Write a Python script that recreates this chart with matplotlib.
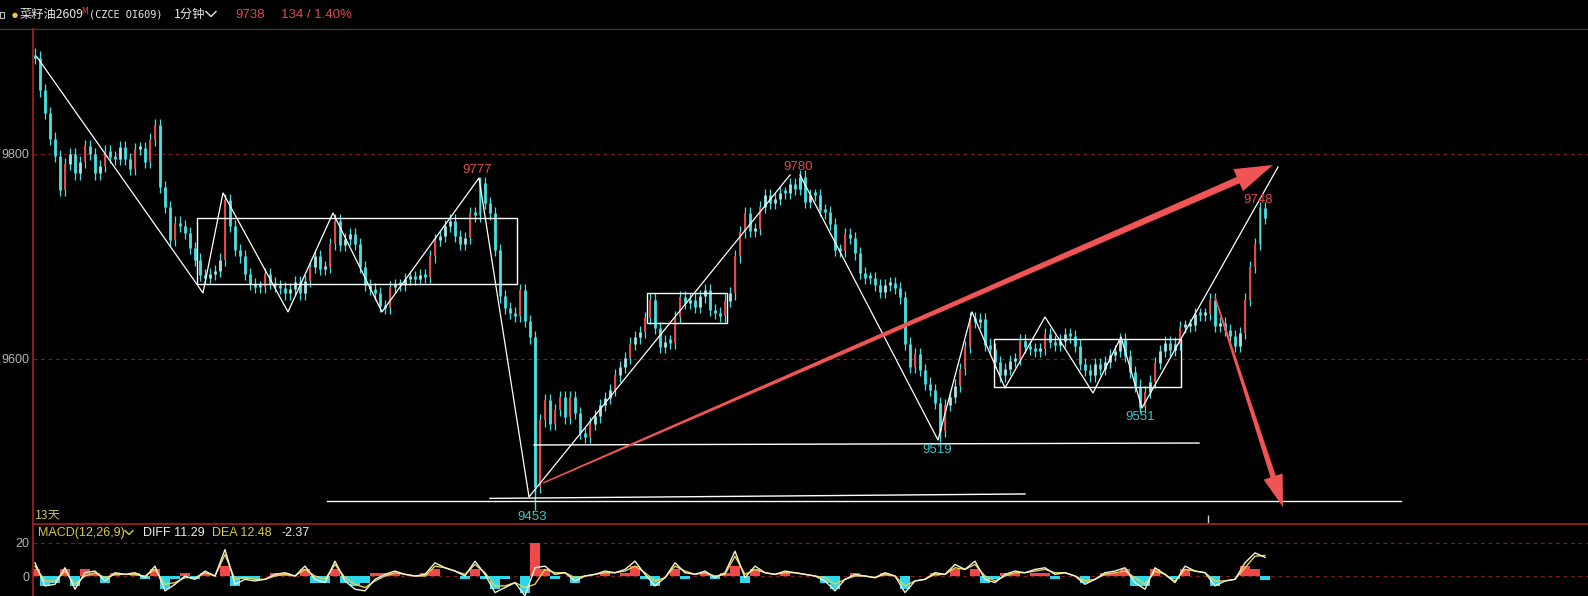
import numpy as np
import matplotlib
matplotlib.use("Agg")
import matplotlib.pyplot as plt
from matplotlib.patches import Polygon, Rectangle
from matplotlib.lines import Line2D

# ---------------- data ----------------
# 1-minute closes, resampled at an even step across the plot
close_prices = [
    9894, 9862, 9840, 9815, 9798, 9765, 9790, 9800, 9781, 9792,
    9808, 9800, 9781, 9788, 9803, 9797, 9795, 9807, 9795, 9785,
    9805, 9806, 9792, 9814, 9828, 9768, 9748, 9716, 9733, 9730,
    9723, 9708, 9697, 9682, 9679, 9683, 9686, 9697, 9755, 9730,
    9706, 9700, 9683, 9673, 9670, 9670, 9683, 9674, 9671, 9669,
    9664, 9668, 9675, 9664, 9676, 9690, 9700, 9688, 9690, 9712,
    9735, 9711, 9717, 9722, 9712, 9690, 9672, 9668, 9664, 9652,
    9650, 9670, 9672, 9672, 9678, 9680, 9678, 9682, 9680, 9700,
    9716, 9720, 9730, 9735, 9720, 9712, 9718, 9742, 9740, 9772,
    9752, 9742, 9706, 9661, 9650, 9645, 9642, 9667, 9637, 9621,
    9475, 9540, 9560, 9537, 9550, 9563, 9543, 9563, 9547, 9528,
    9524, 9537, 9544, 9555, 9562, 9570, 9584, 9592, 9601, 9615,
    9621, 9626, 9640, 9658, 9630, 9612, 9617, 9616, 9641, 9660,
    9655, 9658, 9651, 9661, 9667, 9648, 9645, 9642, 9657, 9664,
    9700, 9724, 9742, 9725, 9727, 9748, 9760, 9752, 9756, 9762,
    9762, 9771, 9766, 9778, 9753, 9760, 9760, 9745, 9743, 9732,
    9706, 9705, 9722, 9718, 9703, 9684, 9679, 9679, 9672, 9665,
    9672, 9674, 9669, 9660, 9615, 9592, 9605, 9589, 9576, 9570,
    9557, 9530, 9555, 9563, 9574, 9590, 9612, 9640, 9636, 9639,
    9614, 9610, 9597, 9584, 9590, 9598, 9600, 9618, 9612, 9610,
    9608, 9610, 9624, 9617, 9614, 9618, 9624, 9622, 9613, 9595,
    9589, 9584, 9595, 9590, 9597, 9604, 9608, 9619, 9603, 9587,
    9574, 9553, 9568, 9578, 9596, 9608, 9616, 9609, 9615, 9631,
    9632, 9633, 9644, 9643, 9644, 9658, 9632, 9635, 9628, 9622,
    9613, 9625, 9658, 9690, 9712, 9747, 9738,
]

# extreme wicks (bar index, price)
wick_index = [0, 89, 100, 153, 181, 221, 245]
wick_price = [9896, 9777, 9453, 9780, 9519, 9551, 9748]

# labelled pivots
pivot_labels = ["9777", "9780", "9748", "9453", "9519", "9551"]
pivot_x = [88.4, 152.6, 244.6, 99.4, 180.4, 221.0]
pivot_y = [9784.4, 9787.3, 9755.1, 9445.9, 9511.2, 9543.4]
pivot_kind = ["high", "high", "high", "low", "low", "low"]

# MACD(12,26,9), every second bar
diff = [
    8, -6, -5, 5, -8, 2, 3, -3, 2, 1,
    2, -1, 6, -9, -5, 0, -2, 3, 0, 16,
    -5, -2, -3, -2, 1, 2, 0, 6, -2, -4,
    9, -3, -8, -9, -2, 1, 3, 1, 0, 1,
    8, 5, 3, 0, 9, 1, -10, -7, -4, -12,
    5, 6, 1, 2, -3, 0, 1, 3, 2, 4,
    9, 1, -6, -1, 8, 2, 1, 3, -1, 2,
    15, -1, 6, 2, 1, 3, 2, 1, 0, -3,
    -9, -2, 1, 0, -1, 2, 0, -10, -3, -2,
    2, 1, 7, 4, 9, -2, -4, 1, 3, 2,
    4, 5, 1, 2, 0, -5, -2, 2, 3, 5,
    -4, -8, 5, 1, -4, 6, 3, 2, -6, -3,
    -2, 8, 14, 11.29,
]
dea = [
    6, -3, -3, 3, -5, 0, 2, -1, 1, 1,
    1, 0, 4, -5, -4, -1, -1, 2, 0, 13,
    -2, -1, -2, -2, 0, 1, 0, 4, 0, -2,
    7, -1, -5, -7, -3, 0, 2, 1, 0, 0,
    6, 5, 3, 1, 7, 2, -6, -6, -4, -7,
    -5, 4, 2, 2, -1, 0, 1, 2, 2, 3,
    6, 2, -3, -1, 6, 3, 1, 2, 0, 1,
    12, 1, 4, 2, 1, 2, 2, 1, 0, -1,
    -5, -2, 0, 0, -1, 1, 0, -6, -3, -2,
    1, 1, 5, 4, 7, 0, -3, 0, 2, 2,
    3, 4, 2, 2, 0, -3, -2, 1, 2, 3,
    -1, -5, 3, 1, -3, 4, 3, 2, -3, -3,
    -2, 5, 12, 12.48,
]

# drawing overlays (bar index, price)
zig1_x = [0.4, 33.6, 37.6, 50.6, 59.6, 69.4, 88.8, 98.8, 151.0]
zig1_y = [9894.6, 9664.4, 9762.0, 9645.9, 9742.4, 9645.9, 9776.6, 9465.4, 9779.5]
zig2_x = [153.0, 180.6, 187.4, 194.0, 202.0, 211.6, 217.2, 221.4, 248.6]
zig2_y = [9779.5, 9520.9, 9645.9, 9571.7, 9641.0, 9566.8, 9621.5, 9552.2, 9787.3]
boxes = [(32.4, 96.4, 9673.2, 9737.6), (122.4, 138.4, 9635.1, 9664.4), (191.8, 229.2, 9572.7, 9619.5)]
hlines = [((99.8, 232.8), (9516.1, 9518.0)), ((58.4, 273.2), (9461.5, 9461.5)), ((91.0, 198.0), (9464.0, 9468.3))]

# ---------------- figure ----------------
W, H, DPI = 1588, 596, 100
fig = plt.figure(figsize=(W / DPI, H / DPI), dpi=DPI, facecolor="black")
plt.rcParams["font.family"] = ["Noto Sans CJK SC", "DejaVu Sans"]


def fx(x):
    return x / W


def fy(y):
    return 1 - y / H


CYAN = "#46e2e2"
PALE = "#a6e6e6"
RED = "#e84646"
TXT_RED = "#e04a4a"
TXT_CYAN = "#38c8cc"
GRID = "#7c1c1c"
AXRED = "#a82222"
ARROW = "#f05454"
XL = (-0.4, 310.6)

ax = fig.add_axes([fx(33), fy(524), fx(1588) - fx(33), fy(28) - fy(524)])
ax.set_facecolor("black")
ax.set_xlim(*XL)
ax.set_ylim(9439.0, 9922.9)
for s in ax.spines.values():
    s.set_visible(False)
ax.set_xticks([])
ax.set_yticks([9600, 9800])
ax.set_yticklabels(["9600", "9800"], family="Liberation Sans")
ax.tick_params(axis="y", length=0, pad=2.5, labelcolor="#b4b4b4", labelsize=9)
for v in (9600, 9800):
    ax.axhline(v, color=GRID, lw=0.9, ls=(0, (3, 3)), zorder=1)

closes = np.array(close_prices, float)
opens = np.r_[closes[0] + 3, closes[:-1]]
idx = np.arange(len(closes))
lo = np.minimum(opens, closes)
hi = np.maximum(opens, closes)
rise = closes - opens
# thin wicks around each body
ax.vlines(idx, lo - 6, hi + 6, color=CYAN, lw=0.9, zorder=2)
down = rise <= 0
small_up = (rise > 0) & (rise <= 12)
big_up = rise > 12
ax.vlines(idx[down], lo[down], np.maximum(hi[down], lo[down] + 3), color=CYAN, lw=2.0, zorder=3)
ax.vlines(idx[small_up], lo[small_up], np.maximum(hi[small_up], lo[small_up] + 3), color=PALE, lw=2.0, zorder=3)
ax.vlines(idx[big_up], lo[big_up], hi[big_up], color=RED, lw=1.4, zorder=3)
for i, p in zip(wick_index, wick_price):
    ax.vlines(i, min(p, lo[i]), max(p, hi[i]), color=CYAN, lw=1.0, zorder=3)

ax.plot(zig1_x, zig1_y, color="white", lw=0.9, zorder=4)
ax.plot(zig2_x, zig2_y, color="white", lw=0.9, zorder=4)
for x0, x1, y0, y1 in boxes:
    ax.add_patch(Rectangle((x0, y0), x1 - x0, y1 - y0, fill=False, ec="white", lw=1.0, zorder=4))
for (x0, x1), (y0, y1) in hlines:
    ax.plot([x0, x1], [y0, y1], color="white", lw=1.0, zorder=4)
ax.vlines(234.6, 9440, 9447.8, color="#d0d0d0", lw=1.0, zorder=4)

for lab, x, y, kind in zip(pivot_labels, pivot_x, pivot_y, pivot_kind):
    ax.text(x, y, lab, color=TXT_RED if kind == "high" else TXT_CYAN,
            ha="center", va="center", fontsize=9.5, family="Liberation Sans", zorder=5)


def tapered_arrow(a, tail, tip, w0, w1, hw, hl, color):
    T = a.transData
    p0 = T.transform(tail)
    p1 = T.transform(tip)
    d = p1 - p0
    u = d / np.hypot(*d)
    n = np.array([-u[1], u[0]])
    base = p1 - u * hl
    pts = [p0 + n * w0 / 2, base + n * w1 / 2, base + n * hw / 2, p1,
           base - n * hw / 2, base - n * w1 / 2, p0 - n * w0 / 2]
    a.add_patch(Polygon(T.inverted().transform(pts), closed=True, fc=color, ec="none", zorder=6))


tapered_arrow(ax, (101.6, 9479.0), (247.6, 9789.3), 1.5, 7.0, 24, 38, ARROW)
tapered_arrow(ax, (236.0, 9660.5), (249.6, 9455.6), 1.5, 5.5, 20, 32, ARROW)

# ---------------- MACD panel ----------------
mx = fig.add_axes([fx(33), 0, fx(1588) - fx(33), fy(524)])
mx.set_facecolor("black")
mx.set_xlim(*XL)
mx.set_ylim(-12.1, 31.5)
for s in mx.spines.values():
    s.set_visible(False)
mx.set_xticks([])
mx.set_yticks([0, 20])
mx.set_yticklabels(["0", "20"], family="Liberation Sans")
mx.tick_params(axis="y", length=0, pad=2.5, labelcolor="#b4b4b4", labelsize=9)
for v in (0, 20):
    mx.axhline(v, color=GRID, lw=0.9, ls=(0, (3, 3)), zorder=1)
d = np.array(diff, float)
e = np.array(dea, float)
hist = 2 * (d - e)
k = np.arange(len(d)) * 2
mx.bar(k, hist, width=2.0, color=np.where(hist >= 0, "#f04848", "#2ed8ec"), zorder=2)
mx.plot(k, e, color="#e2d44c", lw=1.0, zorder=3)
mx.plot(k, d, color="#f4f2d6", lw=1.0, zorder=4)

# ---------------- frame lines ----------------
fig.add_artist(Line2D([0, 1], [fy(28.5), fy(28.5)], color="#383838", lw=1.0, transform=fig.transFigure))
fig.add_artist(Line2D([fx(33), fx(33)], [fy(28.5), 0], color=AXRED, lw=1.2, transform=fig.transFigure))
fig.add_artist(Line2D([fx(33), 1], [fy(524), fy(524)], color=AXRED, lw=1.2, transform=fig.transFigure))

# ---------------- header texts ----------------
fig.add_artist(Rectangle((fx(0), fy(18)), fx(4), fy(12) - fy(18), fill=False, ec="#c0c0c0", lw=0.8,
                         transform=fig.transFigure))
fig.text(fx(15), fy(14.5), "●", color="#e8c830", fontsize=5, ha="center", va="center", family="DejaVu Sans")
fig.text(fx(20), fy(14.5), "菜籽油2609", color="#e6e6e6", fontsize=8.8, va="center")
fig.text(fx(81), fy(11), "M", color="#e04a4a", fontsize=5.5, va="center", family="DejaVu Sans")
fig.text(fx(89), fy(14.5), "(CZCE OI609)", color="#e6e6e6", fontsize=7.4, va="center", family="DejaVu Sans Mono")
fig.text(fx(174), fy(14.5), "1分钟", color="#e6e6e6", fontsize=8.8, va="center")
fig.add_artist(Line2D([fx(206), fx(211), fx(216)], [fy(11.5), fy(16.5), fy(11.5)], color="#e6e6e6", lw=1.0,
                      transform=fig.transFigure))
fig.text(fx(235), fy(14.5), "9738", color="#e04a4a", fontsize=9.5, va="center", family="Liberation Sans")
fig.text(fx(281), fy(14.5), "134 / 1.40%", color="#e04a4a", fontsize=9.5, va="center", family="Liberation Sans")

fig.text(fx(35), fy(515), "13天", color="#c8c060", fontsize=8.8, va="center")
fig.text(fx(38), fy(533), "MACD(12,26,9)", color="#d8cc44", fontsize=9, va="center", family="Liberation Sans")
fig.add_artist(Line2D([fx(125), fx(129), fx(133)], [fy(530.5), fy(534.5), fy(530.5)], color="#d8cc44", lw=1.0,
                      transform=fig.transFigure))
fig.text(fx(143), fy(533), "DIFF 11.29", color="#eeeeee", fontsize=9, va="center", family="Liberation Sans")
fig.text(fx(212), fy(533), "DEA 12.48", color="#d8cc44", fontsize=9, va="center", family="Liberation Sans")
fig.text(fx(282), fy(533), "-2.37", color="#eeeeee", fontsize=9, va="center", family="Liberation Sans")

fig.savefig("out.png", dpi=DPI, facecolor="black")
